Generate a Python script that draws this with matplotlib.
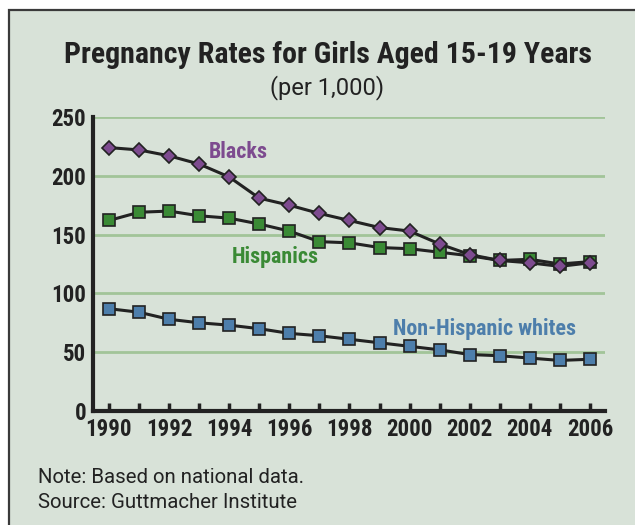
import matplotlib
matplotlib.use("Agg")
import matplotlib.pyplot as plt
from matplotlib.patches import Rectangle
from matplotlib import font_manager

years = list(range(1990, 2007))
blacks = [224, 222, 217, 210, 199, 181, 175, 168, 162, 156, 153, 142, 133, 128, 126, 123, 126]
hispanics = [162, 169, 170, 166, 164, 159, 153, 144, 143, 139, 138, 135, 132, 128, 129, 125, 127]
whites = [87, 84, 78, 75, 73, 70, 66, 64, 61, 58, 55, 52, 48, 47, 45, 43, 44]
xticks = list(range(1990, 2007, 2))
yticks = [0, 50, 100, 150, 200, 250]

names = {f.name for f in font_manager.fontManager.ttflist}
cands = ['Roboto Condensed', 'Archivo Narrow', 'PT Sans Narrow', 'Liberation Sans Narrow',
         'IBM Plex Sans Condensed', 'Fira Sans Condensed', 'Asap Condensed',
         'Encode Sans Condensed', 'Barlow Semi Condensed']
cond = next((c for c in cands if c in names), 'DejaVu Sans')
FAM = [cond, 'DejaVu Sans']
REG = ['Roboto', 'DejaVu Sans']

W, H = 635, 525
fig = plt.figure(figsize=(W / 100, H / 100), dpi=100, facecolor='white')

bg = '#d8e2d8'
fig.patches.append(Rectangle((9 / W, -0.01), 1, 1.01 - 10 / H, transform=fig.transFigure,
                             facecolor=bg, edgecolor='#3a3a3a', linewidth=1.6, zorder=-5))

ax = fig.add_axes([93 / W, 1 - 411 / H, (605 - 93) / W, (411 - 117) / H])
ax.set_zorder(5)
ax.set_facecolor('none')
ax.set_xlim(1989.47, 2006.5)
ax.set_ylim(0, 250)

for y in yticks[1:]:
    ax.axhline(y, color='#a2c499', lw=2, zorder=1)

ax.plot(years, whites, color='#222222', lw=2.2, zorder=2,
        marker='s', ms=9, mfc='#4d7eab', mec='#222222', mew=1.2)
ax.plot(years, hispanics, color='#222222', lw=2.2, zorder=3,
        marker='s', ms=9, mfc='#3a8a35', mec='#222222', mew=1.2)
ax.plot(years, blacks, color='#222222', lw=2.2, zorder=4,
        marker='D', ms=7, mfc='#7d4b8f', mec='#222222', mew=1.2)

ax.text(1994.3, 215, 'Blacks', color='#7d4b8f', fontsize=15.8, fontweight='bold',
        family=FAM, ha='center', va='baseline')
ax.text(1995.53, 126, 'Hispanics', color='#3a8a35', fontsize=15.8, fontweight='bold',
        family=FAM, ha='center', va='baseline')
ax.text(2002.48, 64.6, 'Non-Hispanic whites', color='#4d7eab', fontsize=15.8, fontweight='bold',
        family=FAM, ha='center', va='baseline')

for s in ['top', 'right']:
    ax.spines[s].set_visible(False)
ax.spines['left'].set_linewidth(3)
ax.spines['bottom'].set_linewidth(3)
ax.spines['left'].set_color('#222222')
ax.spines['bottom'].set_color('#222222')

ax.set_xticks(xticks)
ax.set_xticks(years, minor=True)
ax.set_yticks(yticks)
ax.tick_params(axis='x', which='both', direction='in', length=6, width=2.5, color='#222222', pad=5)
ax.tick_params(axis='y', length=0, pad=5)
for lab in ax.get_xticklabels() + ax.get_yticklabels():
    lab.set_fontsize(16.5)
    lab.set_fontweight('bold')
    lab.set_family(FAM)
    lab.set_color('#222222')

fig.text(328 / W, 1 - 63 / H, 'Pregnancy Rates for Girls Aged 15-19 Years',
         fontsize=21.5, fontweight='bold', family=FAM, ha='center', va='baseline', color='#222222')
fig.text(327 / W, 1 - 94 / H, '(per 1,000)',
         fontsize=17, family=REG, ha='center', va='baseline', color='#222222')
fig.text(38 / W, 1 - 483 / H, 'Note: Based on national data.',
         fontsize=14.7, family=REG, ha='left', va='baseline', color='#222222')
fig.text(38 / W, 1 - 508 / H, 'Source: Guttmacher Institute',
         fontsize=14.7, family=REG, ha='left', va='baseline', color='#222222')

fig.savefig('out.png', dpi=100, facecolor='white')
